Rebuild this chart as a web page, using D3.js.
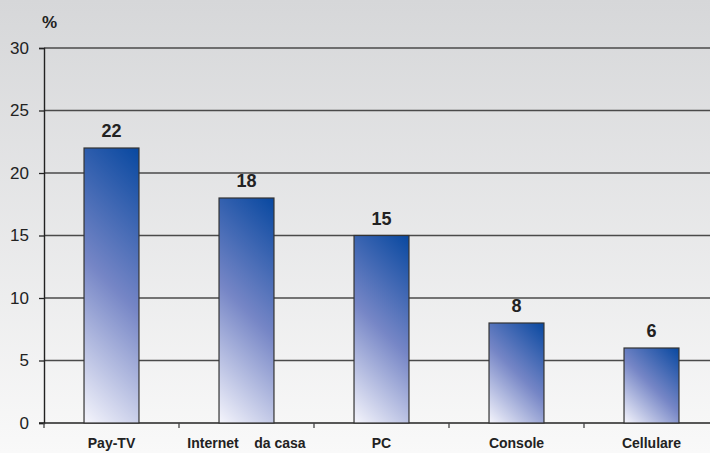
<!DOCTYPE html>
<html>
<head>
<meta charset="utf-8">
<script src="https://cdn.jsdelivr.net/npm/d3@7/dist/d3.min.js"></script>
<style>
  html, body { margin: 0; padding: 0; }
  svg { display: block; }
  text { font-family: "Liberation Sans", Arial, sans-serif; fill: #222; }
</style>
</head>
<body>
<script>
// Categories and their percentages
const categories = ["Pay-TV", "Internet    da casa", "PC", "Console", "Cellulare"];
const values = [22, 18, 15, 8, 6];
const yTicks = [0, 5, 10, 15, 20, 25, 30];

const width = 710, height = 453;
const margin = { left: 44, top: 48 };
const plotBottom = 423;
const bandWidth = 135;

const svg = d3.select("body").append("svg")
  .attr("width", width).attr("height", height);

const defs = svg.append("defs");

// Page background: soft vertical grey fade
const bg = defs.append("linearGradient").attr("id", "bg")
  .attr("x1", 0).attr("y1", 0).attr("x2", 0).attr("y2", 1);
bg.append("stop").attr("offset", 0).attr("stop-color", "#d6d7d9");
bg.append("stop").attr("offset", 1).attr("stop-color", "#f9f9f9");

svg.append("rect").attr("width", width).attr("height", height).attr("fill", "url(#bg)");

const x = d3.scaleBand()
  .domain(categories)
  .range([margin.left, margin.left + bandWidth * categories.length])
  .paddingInner(0.593).paddingOuter(0.2965);

const y = d3.scaleLinear().domain([0, 30]).range([plotBottom, margin.top]);

// Bar fills: 45° fade from a pale lower-left corner to deep blue upper-right corner
values.forEach((v, i) => {
  const x0 = x(categories[i]);
  const w = x.bandwidth();
  const h = y(0) - y(v);
  const span = (w + h) / 2;
  const g = defs.append("linearGradient").attr("id", `barFill${i}`)
    .attr("gradientUnits", "userSpaceOnUse")
    .attr("x1", x0).attr("y1", y(0))
    .attr("x2", x0 + span).attr("y2", y(0) - span);
  g.append("stop").attr("offset", 0).attr("stop-color", "#f5f5fc");
  g.append("stop").attr("offset", 0.5).attr("stop-color", "#7686c6");
  g.append("stop").attr("offset", 1).attr("stop-color", "#0848a0");
});

// Horizontal gridlines
svg.append("g").selectAll("line")
  .data(yTicks.filter(d => d > 0))
  .join("line")
  .attr("x1", margin.left).attr("x2", width)
  .attr("y1", d => y(d)).attr("y2", d => y(d))
  .attr("stroke", "#4a4a4a").attr("stroke-width", 1.3);

// Y axis
const yAxis = svg.append("g")
  .attr("transform", `translate(${margin.left},0)`)
  .call(d3.axisLeft(y).tickValues(yTicks).tickSize(5).tickPadding(10));
yAxis.select(".domain").attr("stroke", "#222").attr("stroke-width", 1.4);
yAxis.selectAll(".tick line").attr("stroke", "#222").attr("stroke-width", 1.3);
yAxis.selectAll(".tick text")
  .attr("font-size", 17).attr("fill", "#222")
  .style("font-family", "'Liberation Sans', Arial, sans-serif");

// X axis line with ticks at category boundaries
const xBoundaries = d3.range(categories.length + 1).map(i => margin.left + i * bandWidth);
svg.append("line")
  .attr("x1", margin.left - 5).attr("x2", width)
  .attr("y1", plotBottom).attr("y2", plotBottom)
  .attr("stroke", "#222").attr("stroke-width", 1.4);
svg.append("g").selectAll("line")
  .data(xBoundaries)
  .join("line")
  .attr("x1", d => d).attr("x2", d => d)
  .attr("y1", plotBottom).attr("y2", plotBottom + 5)
  .attr("stroke", "#444").attr("stroke-width", 1.3);

// Bars
svg.append("g").selectAll("rect")
  .data(values)
  .join("rect")
  .attr("x", (d, i) => x(categories[i]))
  .attr("y", d => y(d))
  .attr("width", x.bandwidth())
  .attr("height", d => y(0) - y(d))
  .attr("fill", (d, i) => `url(#barFill${i})`)
  .attr("stroke", "#333").attr("stroke-width", 1.2);

// Value labels above bars
svg.append("g").selectAll("text")
  .data(values)
  .join("text")
  .attr("x", (d, i) => x(categories[i]) + x.bandwidth() / 2)
  .attr("y", d => y(d) - 11)
  .attr("text-anchor", "middle")
  .attr("font-size", 18).attr("font-weight", "bold")
  .text(d => d);

// Category labels
svg.append("g").selectAll("text")
  .data(categories)
  .join("text")
  .attr("x", d => x(d) + x.bandwidth() / 2)
  .attr("y", 448)
  .attr("text-anchor", "middle")
  .attr("font-size", 14).attr("font-weight", "bold")
  .style("white-space", "pre")
  .text(d => d);

// Unit label
svg.append("text")
  .attr("x", 42).attr("y", 28)
  .attr("font-size", 17).attr("font-weight", "bold")
  .text("%");
</script>
</body>
</html>
